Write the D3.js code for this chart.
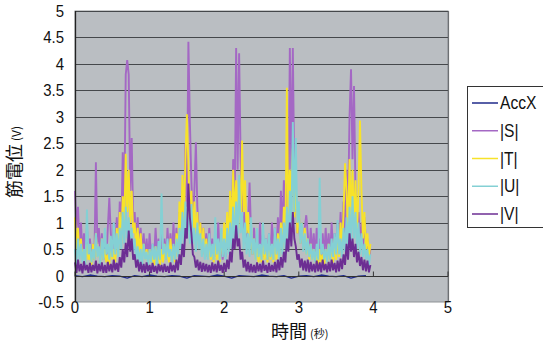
<!DOCTYPE html>
<html><head><meta charset="utf-8">
<script src="https://cdn.jsdelivr.net/npm/d3@7"></script>
<style>body{margin:0;background:#fff} svg{display:block}</style>
</head><body><svg id="c" width="543" height="345"></svg>
<script>
// ---- data ----
const emgStep = 0.02;   // seconds between EMG samples
const accStep = 0.1;    // seconds between AccX samples
const xTickValues = [0, 1, 2, 3, 4, 5];
const yTickValues = [-0.5, 0, 0.5, 1, 1.5, 2, 2.5, 3, 3.5, 4, 4.5, 5];
const seriesNames = ["AccX", "|S|", "|T|", "|U|", "|V|"];

const accX = [0.0,-0.02,0.01,-0.01,-0.02,0.0,-0.01,-0.05,0.0,-0.02,
  0.01,-0.01,-0.02,0.0,-0.01,-0.05,0.0,-0.01,-0.02,0.01,
  -0.01,-0.05,0.0,-0.01,-0.02,0.01,-0.01,-0.02,0.0,-0.05,
  -0.01,0.0,-0.02,0.01,-0.01,-0.02,0.0,-0.05,-0.01,0.0];

const absS = [
  1.6,0.9,1.3,0.6,1.0,0.4,0.8,0.35,0.9,0.4,
  0.7,0.3,0.6,0.3,2.14,0.6,0.9,0.35,0.8,0.3,
  0.6,0.3,0.9,1.47,0.8,0.4,1.0,0.5,1.1,0.5,
  1.4,0.8,2.33,1.2,3.8,4.07,3.8,1.6,2.6,1.0,
  1.2,0.6,1.1,0.5,0.9,0.4,0.8,0.35,0.7,0.3,
  0.8,0.35,0.6,0.3,0.9,0.4,0.7,0.3,0.8,0.35,
  0.7,0.3,0.9,0.4,0.8,0.35,1.0,0.4,0.9,0.4,
  1.2,0.7,1.6,0.9,2.5,1.3,4.42,2.9,1.8,1.0,
  1.6,2.52,1.3,0.8,1.0,0.5,0.9,0.4,0.8,0.35,
  0.9,0.4,0.7,0.3,0.8,0.35,1.0,0.4,0.7,0.3,
  0.8,0.35,1.0,0.5,1.4,0.7,2.2,1.2,4.3,2.0,
  4.2,2.24,1.4,0.8,1.2,0.6,1.0,1.76,0.8,0.4,
  0.9,0.4,0.7,0.35,1.0,0.4,0.8,0.35,0.7,0.3,
  0.8,0.35,1.0,0.45,0.9,0.4,1.1,0.5,1.6,0.8,
  1.8,1.0,2.2,1.2,4.3,2.0,4.3,1.8,1.5,0.8,
  1.2,0.6,1.0,0.5,0.9,1.14,0.8,0.35,0.9,0.4,
  0.8,0.35,0.9,0.4,0.7,0.3,0.8,0.35,0.9,0.4,
  0.8,0.35,1.0,0.45,0.8,0.4,1.0,0.5,1.2,0.6,
  1.4,0.8,2.0,1.2,3.0,3.9,2.2,3.58,1.6,0.9,
  1.2,0.6,1.0,0.5,1.1,0.6,0.7,0.3,0.5];

const absT = [
  1.1,0.5,0.9,0.4,0.7,0.3,0.5,0.25,0.6,0.3,
  0.4,0.2,0.6,0.3,0.8,0.35,0.5,0.25,0.7,0.3,
  0.5,0.25,0.4,0.2,0.6,0.3,0.5,0.25,0.9,0.4,
  1.2,0.6,1.5,0.9,2.3,1.2,2.0,1.0,1.6,0.8,
  1.0,0.5,0.9,0.4,0.8,0.35,0.6,0.3,0.5,0.25,
  0.5,0.25,0.4,0.2,0.55,0.25,0.45,0.2,0.5,0.25,
  0.6,0.3,0.5,0.25,0.7,0.3,0.55,0.25,0.8,0.35,
  1.4,0.7,1.9,1.0,2.2,3.05,2.1,1.0,1.6,0.8,
  1.4,0.7,1.2,0.6,1.0,0.45,0.9,0.4,0.7,0.35,
  0.6,0.3,0.5,0.25,0.7,0.3,0.6,0.25,0.8,0.4,
  1.0,0.5,1.2,0.6,1.6,0.8,2.0,1.0,1.8,0.9,
  1.9,0.9,2.55,1.2,1.8,0.8,1.2,0.5,0.9,0.4,
  0.7,0.3,0.6,0.25,0.5,0.25,0.6,0.3,0.5,0.25,
  0.6,0.3,0.5,0.25,0.7,0.3,0.8,0.4,1.0,0.5,
  1.3,0.6,3.55,0.9,2.0,1.5,2.4,1.1,1.8,0.8,
  1.3,0.6,1.0,0.5,0.9,0.4,0.7,0.3,0.6,0.3,
  0.5,0.25,0.45,0.2,0.5,0.25,0.4,0.2,0.5,0.25,
  0.6,0.3,0.5,0.25,0.7,0.3,0.8,0.35,1.0,0.5,
  1.2,2.12,1.6,0.8,2.2,1.0,2.0,0.9,1.8,0.8,
  1.6,2.93,1.6,0.7,1.2,0.5,0.8,0.35,0.6];

const absU = [
  0.5,0.2,0.7,0.3,0.6,0.25,0.5,0.2,1.25,0.4,
  0.6,0.25,0.5,0.3,0.8,0.35,0.55,0.2,0.7,0.3,
  0.9,0.4,0.6,0.3,0.75,0.35,1.0,0.4,0.8,0.35,
  0.9,0.5,1.2,0.6,1.3,0.7,1.1,0.5,0.9,0.45,
  0.7,0.3,0.55,0.25,0.5,0.2,0.6,0.3,0.45,0.2,
  0.5,0.25,0.6,0.3,0.55,0.2,0.65,0.3,1.55,0.4,
  0.6,0.3,0.7,0.35,0.5,0.25,0.6,0.3,0.7,0.35,
  0.9,0.5,1.2,0.6,1.4,0.8,1.1,0.6,1.35,0.6,
  0.9,0.45,1.0,0.5,0.8,0.35,0.7,0.3,0.6,0.3,
  0.8,0.35,0.6,0.3,1.1,0.4,0.7,0.3,0.9,0.35,
  0.7,0.3,0.9,0.4,1.0,0.5,1.3,0.6,1.4,0.7,
  1.9,0.8,1.2,0.5,1.0,0.4,0.8,0.35,1.1,0.4,
  0.7,0.3,0.9,0.35,0.6,0.3,1.0,0.4,0.7,0.3,
  0.8,0.35,0.6,0.3,0.9,0.4,0.7,0.3,0.9,0.4,
  1.0,0.5,1.3,0.6,1.6,0.8,2.9,1.2,2.6,1.0,
  1.4,0.6,1.0,0.45,0.8,0.4,0.7,0.35,0.6,0.3,
  0.5,0.25,0.6,0.3,1.85,0.4,0.6,0.3,0.5,0.25,
  0.6,0.3,0.7,0.35,0.8,0.4,1.05,0.4,0.7,0.35,
  0.9,0.45,1.1,0.5,1.3,0.6,1.5,0.7,1.2,0.5,
  1.0,0.4,0.8,0.35,0.6,0.3,0.5,0.2,0.4];

const absV = [
  0.25,0.05,0.3,0.08,0.22,0.04,0.27,0.1,0.2,0.05,
  0.24,0.06,0.2,0.09,0.28,0.04,0.22,0.08,0.25,0.05,
  0.2,0.05,0.26,0.08,0.22,0.06,0.3,0.1,0.24,0.07,
  0.35,0.15,0.5,0.25,0.62,0.35,0.85,0.45,0.7,0.3,
  0.4,0.15,0.3,0.08,0.26,0.06,0.22,0.05,0.25,0.08,
  0.2,0.05,0.24,0.07,0.18,0.04,0.22,0.08,0.2,0.06,
  0.22,0.07,0.18,0.05,0.25,0.08,0.2,0.06,0.3,0.1,
  0.4,0.2,0.6,0.35,0.9,0.7,1.74,1.1,0.8,0.4,
  0.35,0.15,0.3,0.1,0.26,0.07,0.24,0.08,0.22,0.06,
  0.2,0.05,0.25,0.08,0.22,0.06,0.28,0.09,0.2,0.05,
  0.24,0.07,0.3,0.12,0.45,0.25,0.7,0.5,0.95,0.55,
  0.7,0.3,0.45,0.15,0.3,0.08,0.26,0.06,0.22,0.06,
  0.2,0.05,0.25,0.08,0.22,0.06,0.28,0.09,0.2,0.05,
  0.24,0.07,0.2,0.08,0.26,0.06,0.3,0.1,0.35,0.15,
  0.45,0.25,0.7,0.45,1.0,0.55,1.2,0.7,0.55,0.3,
  0.4,0.15,0.32,0.1,0.28,0.08,0.3,0.06,0.26,0.08,
  0.22,0.06,0.28,0.08,0.25,0.06,0.3,0.1,0.22,0.06,
  0.26,0.08,0.3,0.1,0.24,0.06,0.28,0.08,0.32,0.12,
  0.4,0.2,0.6,0.3,0.8,0.45,0.7,0.35,0.6,0.25,
  0.45,0.18,0.35,0.1,0.3,0.08,0.28,0.06,0.2];

const seriesColors = ["#1f2a8a", "#a468c4", "#f7e22a", "#84d0d4", "#6c2e93"];

// ---- chart ----
const svg = d3.select("#c");
const W = 543, H = 345;
const plot = {left: 75, right: 448, top: 11, bottom: 302};
const x = d3.scaleLinear().domain([0, 5]).range([plot.left, plot.right]);
const y = d3.scaleLinear().domain([-0.5, 5]).range([plot.bottom, plot.top]);
const numFont = "'Liberation Sans',Arial,sans-serif";
const cjkFont = "'Noto Sans CJK JP','Noto Sans CJK SC',sans-serif";

svg.append("rect").attr("width", W).attr("height", H).attr("fill", "#fff");

// plot area
svg.append("rect")
  .attr("x", plot.left).attr("y", plot.top)
  .attr("width", plot.right - plot.left).attr("height", plot.bottom - plot.top)
  .attr("fill", "#babec2").attr("stroke", "#8f9396").attr("stroke-width", 1);

// horizontal gridlines
svg.append("g")
  .selectAll("line")
  .data(yTickValues.filter(v => v > 0))
  .join("line")
  .attr("x1", plot.left).attr("x2", plot.right)
  .attr("y1", d => Math.round(y(d)) + 0.5).attr("y2", d => Math.round(y(d)) + 0.5)
  .attr("stroke", "#45484b").attr("stroke-width", 1);

// right border
svg.append("line")
  .attr("x1", plot.right + 0.5).attr("x2", plot.right + 0.5)
  .attr("y1", plot.top).attr("y2", plot.bottom)
  .attr("stroke", "#6d7073").attr("stroke-width", 1.2);

// series
const series = [
  {name: seriesNames[0], values: accX, step: accStep},
  {name: seriesNames[1], values: absS, step: emgStep},
  {name: seriesNames[2], values: absT, step: emgStep},
  {name: seriesNames[3], values: absU, step: emgStep},
  {name: seriesNames[4], values: absV, step: emgStep}
];
const line = d3.line().x(d => x(d[0])).y(d => y(d[1]));
const drawOrder = [1, 2, 3, 4, 0];
const gSeries = svg.append("g");
drawOrder.forEach(k => {
  const s = series[k];
  const pts = s.values.map((v, i) => [i * s.step, v]);
  gSeries.append("path")
    .attr("d", line(pts))
    .attr("fill", "none")
    .attr("stroke", seriesColors[k])
    .attr("stroke-width", k === 0 ? 1.3 : 1.9)
    .attr("stroke-linejoin", "bevel");
});

// x axis at y = 0 with upward ticks
const xAxisG = svg.append("g").attr("transform", `translate(0,${Math.round(y(0)) + 0.5})`);
xAxisG.append("line").attr("x1", plot.left).attr("x2", plot.right)
  .attr("stroke", "#333").attr("stroke-width", 1.2);
xAxisG.selectAll("line.tk").data(xTickValues).join("line").attr("class", "tk")
  .attr("x1", d => x(d)).attr("x2", d => x(d)).attr("y1", 0).attr("y2", -5)
  .attr("stroke", "#333").attr("stroke-width", 1);

// x labels at the bottom
svg.append("g").selectAll("text").data(xTickValues).join("text")
  .attr("transform", d => `translate(${x(d)},${plot.bottom + 11}) scale(0.88,1)`)
  .attr("text-anchor", "middle")
  .attr("font-family", numFont).attr("font-size", 17).attr("fill", "#111")
  .text(d => d3.format("d")(d));

// y axis line
svg.append("line")
  .attr("x1", plot.left + 0.5).attr("x2", plot.left + 0.5)
  .attr("y1", plot.top).attr("y2", plot.bottom)
  .attr("stroke", "#222").attr("stroke-width", 1.3);

// y labels
svg.append("g").selectAll("text").data(yTickValues).join("text")
  .attr("transform", d => `translate(64,${y(d) + 6}) scale(0.88,1)`)
  .attr("text-anchor", "end")
  .attr("font-family", numFont).attr("font-size", 17).attr("fill", "#111")
  .text(d => d === -0.5 ? "-0.5" : d3.format("")(d));

// axis titles
const xt = svg.append("text")
  .attr("x", 271).attr("y", 338)
  .attr("font-family", cjkFont).attr("fill", "#111");
xt.append("tspan").attr("font-size", 18).text("時間");
xt.append("tspan").attr("font-size", 11).attr("dx", 3).text("(秒)");

const yt = svg.append("text")
  .attr("transform", "translate(21,198) rotate(-90)")
  .attr("font-family", cjkFont).attr("fill", "#111");
yt.append("tspan").attr("font-size", 18).text("筋電位");
yt.append("tspan").attr("font-size", 12).attr("dx", 3).text("(V)");

// legend
const lg = svg.append("g");
lg.append("rect").attr("x", 467.5).attr("y", 86.5).attr("width", 80).attr("height", 141)
  .attr("fill", "#fff").attr("stroke", "#333").attr("stroke-width", 1);
const legendRows = seriesNames.map((n, i) => ({name: n, color: seriesColors[i], i}));
const ly = d3.scaleLinear().domain([0, 4]).range([103, 214]);
lg.selectAll("line").data(legendRows).join("line")
  .attr("x1", 472).attr("x2", 498)
  .attr("y1", d => ly(d.i)).attr("y2", d => ly(d.i))
  .attr("stroke", d => d.color).attr("stroke-width", 1.5);
lg.selectAll("text").data(legendRows).join("text")
  .attr("transform", d => `translate(500,${ly(d.i) + 6}) scale(0.92,1.05)`)
  .attr("font-family", numFont).attr("font-size", 17).attr("fill", "#111")
  .text(d => d.name);
</script></body></html>
